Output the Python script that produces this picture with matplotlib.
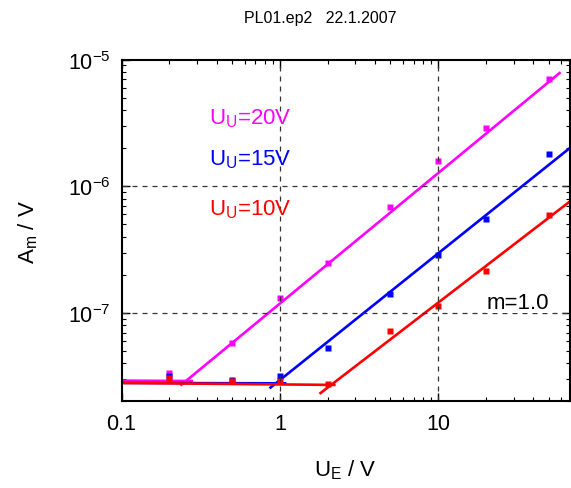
import numpy as np
import matplotlib.pyplot as plt

plt.rcParams['font.family'] = ['Liberation Sans', 'DejaVu Sans']
plt.rcParams['mathtext.fontset'] = 'custom'
plt.rcParams['mathtext.rm'] = 'Liberation Sans'
plt.rcParams['mathtext.default'] = 'regular'

# measured points
u_e = [0.2, 0.5, 1, 2, 5, 10, 20, 50]
a_20 = [3.35e-8, 5.8e-8, 1.32e-7, 2.5e-7, 6.9e-7, 1.58e-6, 2.9e-6, 7.0e-6]
a_15 = [3.15e-8, 2.95e-8, 3.18e-8, 5.3e-8, 1.4e-7, 2.87e-7, 5.5e-7, 1.8e-6]
a_10 = [3.05e-8, 2.9e-8, 2.92e-8, 2.75e-8, 7.2e-8, 1.14e-7, 2.14e-7, 5.9e-7]

# fitted lines: noise floor and power-law part (A = k * U_E^m)
floor_20 = [2.92e-8, 2.9e-8]
floor_15 = [2.8e-8, 2.78e-8]
floor_10 = [2.8e-8, 2.7e-8]
floor_end = [0.283, 1.1, 2.25]
k_fit = [1.185e-7, 2.95e-8, 1.32e-8]
m_fit = [1.03, 1.0, 0.96]
fit_range = [(0.235, 59.4), (0.86, 70), (1.78, 68)]

colors = ['#ff00ff', '#0000ff', '#ff0000']
labels = ['U$_U$=20V', 'U$_U$=15V', 'U$_U$=10V']
label_y = [3.5e-6, 1.66e-6, 6.7e-7]

fig = plt.figure(figsize=(5.71, 4.89), dpi=100)
ax = fig.add_axes([0.213, 0.177, 0.785, 0.699])

for a, floor, fe, k, m, (x0, x1), c in zip([a_20, a_15, a_10],
                                           [floor_20, floor_15, floor_10],
                                           floor_end, k_fit, m_fit,
                                           fit_range, colors):
    ax.plot([0.1, fe], floor, color=c, lw=1.9, solid_capstyle='butt')
    xs = np.array([x0, x1])
    ax.plot(xs, k * xs ** m, color=c, lw=1.9, solid_capstyle='butt')
    ax.plot(u_e, a, 's', color=c, ms=4.6, mec='none')

ax.set_xscale('log')
ax.set_yscale('log')
ax.set_xlim(0.1, 68)
ax.set_ylim(2e-8, 1e-5)
ax.set_xticks([0.1, 1, 10])
ax.set_xticklabels(['0.1', '1', '10'])

for v in [1, 10]:
    ax.axvline(v, color='#333333', lw=0.9, ls=(0, (4, 4)))
for v in [1e-6, 1e-7]:
    ax.axhline(v, color='#333333', lw=0.9, ls=(0, (4, 4)))

ax.tick_params(which='both', direction='in', top=True, right=True,
               labelsize=15.5, pad=8)
ax.tick_params(which='major', length=6, width=1)
ax.tick_params(which='minor', length=3, width=0.8)
for s in ax.spines.values():
    s.set_linewidth(1.5)

for lab, y, c in zip(labels, label_y, colors):
    ax.text(1.19, y, lab, color=c, fontsize=16, ha='right', va='center')
ax.text(20.3, 1.21e-7, 'm=1.0', fontsize=16, ha='left', va='center',
        bbox=dict(facecolor='white', edgecolor='none', pad=0.3))

ax.set_xlabel('U$_E$ / V', fontsize=16, labelpad=17)
ax.set_ylabel('A$_m$ / V', fontsize=16, labelpad=20)

fig.text(0.56, 0.963, 'PL01.ep2   22.1.2007', fontsize=11.5, ha='center',
         va='center')

fig.savefig('out.png', dpi=100)
